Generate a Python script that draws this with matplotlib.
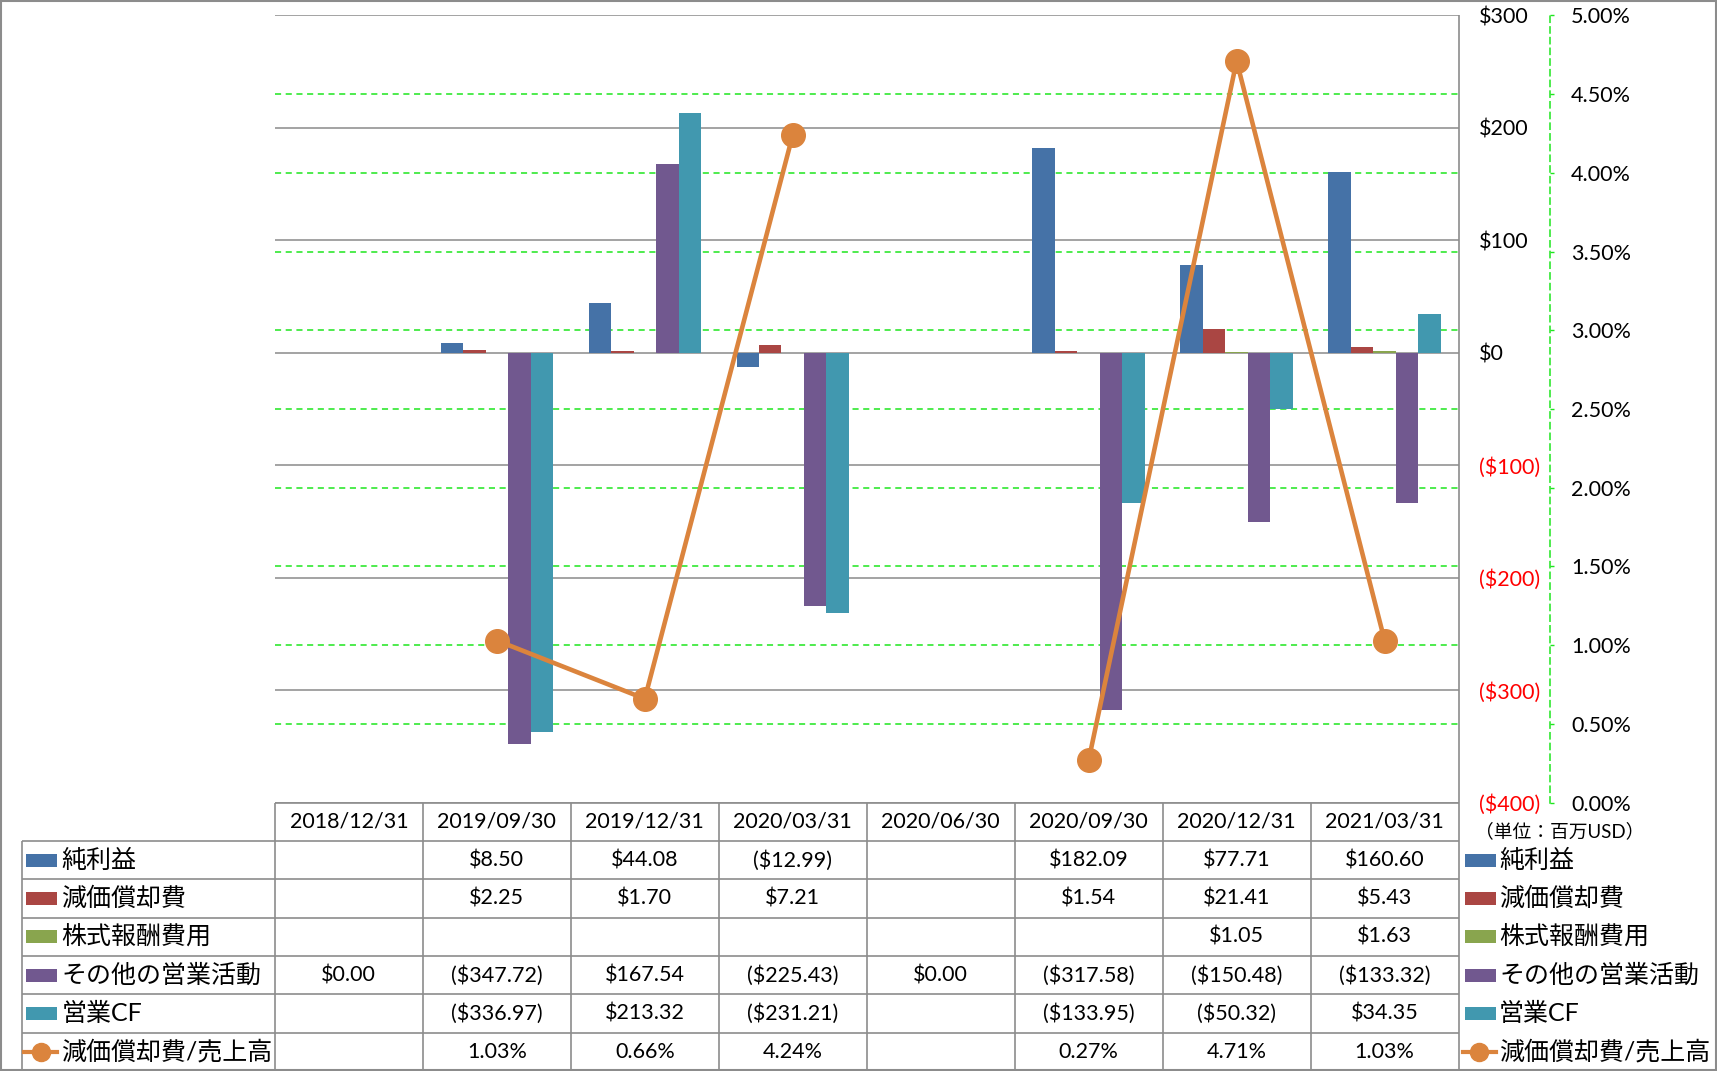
import matplotlib.pyplot as plt
import matplotlib.transforms as mtransforms
from matplotlib.patches import Rectangle
import numpy as np

# data (million USD)
dates = ['2018/12/31', '2019/09/30', '2019/12/31', '2020/03/31',
         '2020/06/30', '2020/09/30', '2020/12/31', '2021/03/31']
net_income = [np.nan, 8.50, 44.08, -12.99, np.nan, 182.09, 77.71, 160.60]
depreciation = [np.nan, 2.25, 1.70, 7.21, np.nan, 1.54, 21.41, 5.43]
stock_comp = [np.nan, np.nan, np.nan, np.nan, np.nan, np.nan, 1.05, 1.63]
other_ops = [0.00, -347.72, 167.54, -225.43, 0.00, -317.58, -150.48, -133.32]
op_cf = [np.nan, -336.97, 213.32, -231.21, np.nan, -133.95, -50.32, 34.35]
dep_ratio = [np.nan, 1.03, 0.66, 4.24, np.nan, 0.27, 4.71, 1.03]  # %

names = ['純利益', '減価償却費', '株式報酬費用', 'その他の営業活動', '営業CF']
line_name = '減価償却費/売上高'
colors = ['#4572A7', '#AA4643', '#89A54E', '#71588F', '#4198AF']
line_color = '#DB843D'
grid_gray = '#8a8a8a'
green = '#1EE61E'

left_ticks = [-400, -300, -200, -100, 0, 100, 200, 300]
right_ticks = [0.0, 0.5, 1.0, 1.5, 2.0, 2.5, 3.0, 3.5, 4.0, 4.5, 5.0]

plt.rcParams['font.family'] = ['Lato', 'Noto Sans CJK JP']
FS = 15.5
FS_JP = 18

# layout in reference pixels
W, H = 1568, 978
def fx(px): return px / W
def fy(py): return 1 - py / H

fig = plt.figure(figsize=(17.17, 10.71), dpi=100)
ax = fig.add_axes([fx(251), fy(733), fx(1332) - fx(251), fy(14) - fy(733)])
ax2 = ax.twinx()

x = np.arange(len(dates))
w = 0.152
series = [net_income, depreciation, stock_comp, other_ops, op_cf]
for i, vals in enumerate(series):
    ax.bar(x + (i - 2) * w, vals, w, color=colors[i], zorder=3)

ax.set_xlim(-0.5, 7.5)
ax.set_ylim(-400, 300)

def money(v):
    if v < 0:
        return '(${:,.0f})'.format(-v)
    return '${:,.0f}'.format(v)

ax.set_yticks(left_ticks, labels=[money(v) for v in left_ticks])
for v, t in zip(left_ticks, ax.yaxis.get_major_ticks()):
    t.label1.set_color('red' if v < 0 else 'black')
    t.label2.set_color('red' if v < 0 else 'black')
ax.yaxis.tick_right()
ax.tick_params(axis='y', length=0, pad=15, labelsize=FS)
ax.tick_params(axis='x', bottom=False, labelbottom=False)
ax.grid(axis='y', color=grid_gray, lw=1.1)
ax.set_axisbelow(True)
for s in ['top', 'left', 'bottom', 'right']:
    ax.spines[s].set_visible(False)

# secondary axis
ax2.set_ylim(0, 5)
ax2.set_yticks(right_ticks, labels=['{:.2f}%'.format(v) for v in right_ticks])
ax2.tick_params(axis='y', length=3, width=1, color=green, pad=12, labelsize=FS)
for s in ['top', 'left', 'bottom']:
    ax2.spines[s].set_visible(False)
ax2.spines['right'].set_position(('outward', 66))
ax2.spines['right'].set_color(green)
ax2.spines['right'].set_linestyle((0, (4, 3)))
ax2.spines['right'].set_linewidth(1.1)

# secondary grid behind the bars
tr = mtransforms.blended_transform_factory(ax.transData, ax2.transData)
ax.hlines(right_ticks[1:-1], -0.5, 7.5, transform=tr, colors=green,
          linestyles=(0, (4, 3)), lw=1.1, zorder=1)

ax2.plot(x, dep_ratio, color=line_color, lw=3.3, marker='o', ms=17,
         zorder=5, clip_on=False)

# data table
tax = fig.add_axes([0, 0, 1, fy(14)])
def tx(px): return (px - 251) / 135.125 - 0.5
tax.set_xlim(tx(0), tx(W))
rh = 35.0 / (733 - 14)
tax.set_ylim(7, -(733 - 14) / 35.0)
tax.axis('off')

lc = '#8c8c8c'
tax.hlines(0, -0.5, 7.5, color=lc, lw=1.2)
tax.hlines(np.arange(1, 8), tx(20), 7.5, color=lc, lw=1.2)
tax.vlines(np.arange(-0.5, 7.5, 1), 0, 7, color=lc, lw=1.2)
tax.vlines(7.5, -(733 - 14) / 35.0, 7, color=lc, lw=1.2)
tax.vlines(tx(20), 1, 7, color=lc, lw=1.2)

def fmt_money(v):
    if np.isnan(v):
        return ''
    if v < 0:
        return '(${:,.2f})'.format(-v)
    return '${:,.2f}'.format(v)

for j, d in enumerate(dates):
    tax.text(j, 0.5, d, ha='center', va='center', fontsize=FS)

for r, vals in enumerate(series):
    for j, v in enumerate(vals):
        tax.text(j, r + 1.5, fmt_money(v), ha='center', va='center', fontsize=FS)
for j, v in enumerate(dep_ratio):
    if not np.isnan(v):
        tax.text(j, 6.5, '{:.2f}%'.format(v), ha='center', va='center', fontsize=FS)

# legend keys (left column and right side)
for key_l, key_r, txt_x in [(24, 52, 56), (1338, 1366, 1369)]:
    for r, name in enumerate(names):
        yc = r + 1.5
        tax.add_patch(Rectangle((tx(key_l), yc - 0.17), tx(key_r) - tx(key_l), 0.34,
                                color=colors[r], lw=0))
        tax.text(tx(txt_x), yc, name, ha='left', va='center', fontsize=FS_JP)
    yc = 6.5
    tax.plot([tx(key_l - 2), tx(key_r)], [yc, yc], color=line_color, lw=3)
    tax.plot([(tx(key_l - 2) + tx(key_r)) / 2], [yc], 'o', color=line_color, ms=13)
    tax.text(tx(txt_x), yc, line_name, ha='left', va='center', fontsize=FS_JP)

tax.text(tx(1347), 0.75, '（単位：百万USD）', ha='left', va='center', fontsize=13.5)

# outer border
fig.patches.append(Rectangle((0.0005, 0.0005), 0.999, 0.999, transform=fig.transFigure,
                             fill=False, ec='#8c8c8c', lw=1.5))

fig.savefig('out.png', dpi=100)
